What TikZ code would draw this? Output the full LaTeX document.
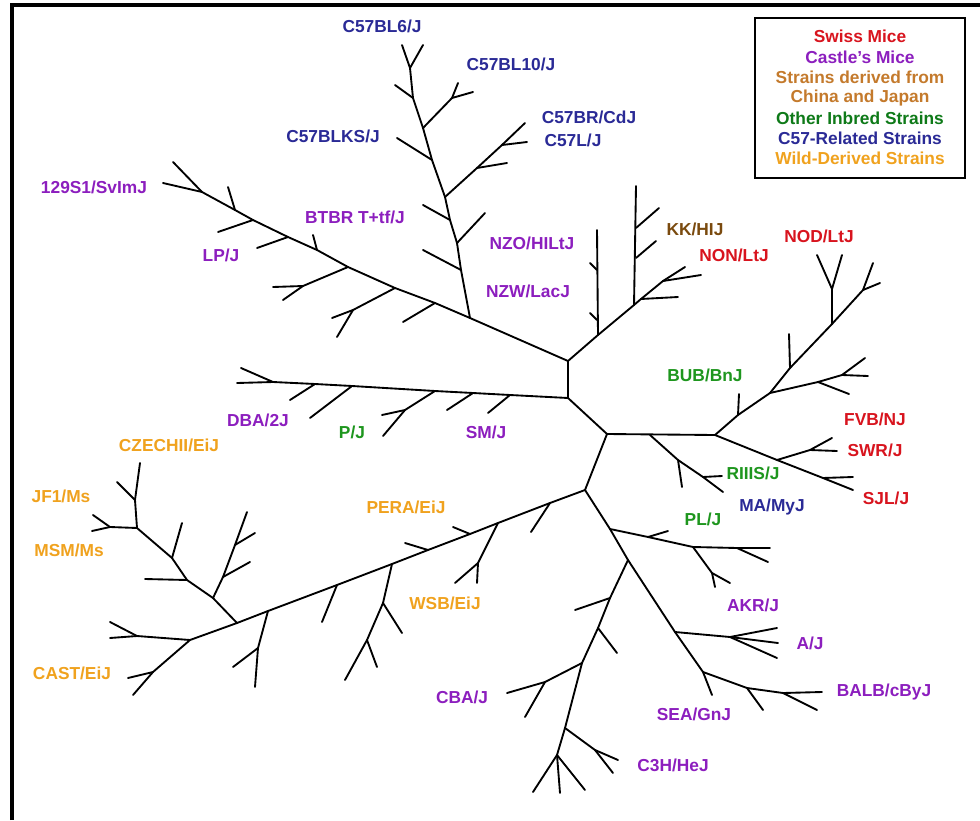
\documentclass[tikz,border=0pt]{standalone}
\usepackage{fontspec}
\setmainfont{Liberation Sans}
\definecolor{swiss}{HTML}{D8141E}
\definecolor{castle}{HTML}{8C1EBE}
\definecolor{china}{HTML}{C47A2C}
\definecolor{kkc}{HTML}{7A4A0E}
\definecolor{other}{HTML}{0E7A18}
\definecolor{otherlab}{HTML}{1E961E}
\definecolor{cfs}{HTML}{2A2A96}
\definecolor{wild}{HTML}{F0A21E}
\begin{document}
\begin{tikzpicture}[x=0.75pt,y=-0.75pt,
  br/.style={line width=1.4pt,line cap=round,line join=round},
  lab/.style={font=\fontsize{13}{15}\selectfont\bfseries,inner sep=0pt},
  leg/.style={font=\fontsize{13}{15}\selectfont\bfseries,inner sep=0pt}]
\useasboundingbox (0,0) rectangle (980,820);
\fill[white] (0,0) rectangle (980,820);
\draw[line width=3pt] (12,820) -- (12,5.5) -- (980,5.5);

% main junctions
\coordinate (A) at (568,361);
\coordinate (B) at (568,398);
\coordinate (C) at (607,434);
\coordinate (D) at (585,490);
\coordinate (E) at (715,435);
\coordinate (P) at (470,318);
\coordinate (K) at (237,623);
\coordinate (Q) at (598,335);
\coordinate (J) at (634,305);
\coordinate (F) at (770,393);
\coordinate (G) at (832,324);
\coordinate (H) at (777,460);
\coordinate (L) at (610,529);
\coordinate (M) at (628,560);
\coordinate (N) at (675,632);
\coordinate (O) at (703,672);

% centre
\draw[br] (P) -- (A) -- (B) -- (C) -- (E);
\draw[br] (C) -- (D);
\draw[br] (A) -- (Q) -- (J);

% 129S1 branch
\draw[br] (P) -- (435,303) -- (395,288) -- (348,267) -- (317,250) -- (288,237) -- (253,220) -- (235,210) -- (202,192) -- (173,162);
\draw[br] (202,192) -- (163,183);
\draw[br] (235,210) -- (228,187);
\draw[br] (253,220) -- (218,232);
\draw[br] (288,237) -- (257,248);
\draw[br] (317,250) -- (313,235);
\draw[br] (348,267) -- (303,286) -- (273,287);
\draw[br] (303,286) -- (283,300);
\draw[br] (395,288) -- (353,310) -- (332,318);
\draw[br] (353,310) -- (337,337);
\draw[br] (435,303) -- (403,322);

% C57 branch
\draw[br] (P) -- (461,270) -- (457,243) -- (450,220) -- (445,197) -- (432,160) -- (423,128) -- (413,98) -- (410,68) -- (402,45);
\draw[br] (410,68) -- (423,45);
\draw[br] (413,98) -- (395,85);
\draw[br] (423,128) -- (452,98) -- (458,83);
\draw[br] (452,98) -- (473,92);
\draw[br] (432,160) -- (397,138);
\draw[br] (445,197) -- (477,168) -- (502,145) -- (525,123);
\draw[br] (502,145) -- (527,142);
\draw[br] (477,168) -- (507,163);
\draw[br] (450,220) -- (423,205);
\draw[br] (457,243) -- (485,213);
\draw[br] (461,270) -- (423,250);

% NZO / NZW
\draw[br] (Q) -- (597,230);
\draw[br] (597,270) -- (590,263);
\draw[br] (597,320) -- (590,313);

% KK / NON
\draw[br] (J) -- (636,186);
\draw[br] (636,258) -- (656,241);
\draw[br] (636,228) -- (659,208);
\draw[br] (J) -- (641,299) -- (663,281) -- (685,267);
\draw[br] (641,299) -- (678,297);
\draw[br] (663,281) -- (701,275);

% NOD / FVB
\draw[br] (E) -- (738,415) -- (F) -- (790,368) -- (G) -- (863,290) -- (873,263);
\draw[br] (863,290) -- (880,283);
\draw[br] (738,415) -- (739,394);
\draw[br] (790,368) -- (789,334);
\draw[br] (G) -- (832,289) -- (817,255);
\draw[br] (832,289) -- (842,255);
\draw[br] (F) -- (818,382) -- (842,375) -- (868,376);
\draw[br] (842,375) -- (865,358);
\draw[br] (818,382) -- (849,394);

% SWR / SJL
\draw[br] (E) -- (H) -- (823,478) -- (853,490);
\draw[br] (H) -- (810,450) -- (832,438);
\draw[br] (810,450) -- (837,451);
\draw[br] (823,478) -- (853,477);

% RIIIS / MA
\draw[br] (650,435) -- (678,460) -- (703,477) -- (723,492);
\draw[br] (678,460) -- (682,487);
\draw[br] (703,477) -- (722,476);

% DBA / P / SM
\draw[br] (B) -- (510,395) -- (473,393) -- (435,391) -- (352,386) -- (315,384) -- (273,382) -- (237,383);
\draw[br] (273,382) -- (241,368);
\draw[br] (315,384) -- (290,400);
\draw[br] (352,386) -- (310,418);
\draw[br] (435,391) -- (405,410) -- (383,436);
\draw[br] (405,410) -- (382,415);
\draw[br] (473,393) -- (447,410);
\draw[br] (510,395) -- (488,413);

% wild-derived
\draw[br] (D) -- (550,503) -- (498,523) -- (470,534) -- (428,550) -- (392,564) -- (337,585) -- (268,611) -- (K);
\draw[br] (550,503) -- (531,532);
\draw[br] (498,523) -- (478,563) -- (455,583);
\draw[br] (478,563) -- (477,583);
\draw[br] (470,534) -- (453,527);
\draw[br] (428,550) -- (405,543);
\draw[br] (392,564) -- (383,603) -- (367,640) -- (345,680);
\draw[br] (383,603) -- (402,633);
\draw[br] (367,640) -- (377,667);
\draw[br] (337,585) -- (322,622);
\draw[br] (268,611) -- (258,648) -- (255,687);
\draw[br] (258,648) -- (233,667);
\draw[br] (K) -- (190,640) -- (137,636) -- (110,638);
\draw[br] (137,636) -- (110,622);
\draw[br] (190,640) -- (153,672) -- (133,695);
\draw[br] (153,672) -- (128,678);
\draw[br] (K) -- (213,598) -- (187,580) -- (172,558) -- (137,528) -- (135,500) -- (140,463);
\draw[br] (135,500) -- (117,482);
\draw[br] (137,528) -- (110,527) -- (93,515);
\draw[br] (110,527) -- (92,531);
\draw[br] (213,598) -- (223,577) -- (235,545) -- (247,512);
\draw[br] (223,577) -- (250,562);
\draw[br] (235,545) -- (255,533);
\draw[br] (187,580) -- (145,579);
\draw[br] (172,558) -- (182,523);

% lower branch
\draw[br] (D) -- (L) -- (M) -- (N) -- (O) -- (712,695);
\draw[br] (L) -- (648,537) -- (693,547) -- (737,548) -- (770,548);
\draw[br] (737,548) -- (768,562);
\draw[br] (648,537) -- (668,531);
\draw[br] (693,547) -- (712,573) -- (730,583);
\draw[br] (712,573) -- (715,587);
\draw[br] (N) -- (730,637) -- (777,628);
\draw[br] (730,637) -- (778,643);
\draw[br] (730,637) -- (777,658);
\draw[br] (O) -- (747,688) -- (783,693) -- (822,692);
\draw[br] (783,693) -- (817,710);
\draw[br] (747,688) -- (763,710);
\draw[br] (M) -- (610,598) -- (598,628) -- (582,663) -- (565,728) -- (557,755) -- (560,793);
\draw[br] (557,755) -- (533,792);
\draw[br] (557,755) -- (585,790);
\draw[br] (610,598) -- (575,610);
\draw[br] (598,628) -- (617,653);
\draw[br] (582,663) -- (545,682) -- (507,693);
\draw[br] (545,682) -- (525,717);
\draw[br] (565,728) -- (595,750) -- (618,760);
\draw[br] (595,750) -- (613,773);

% labels
\node[lab,text=cfs] (c57bl6) at (382,26) {C57BL6/J};
\node[lab,text=cfs] (c57bl10) at (511,64) {C57BL10/J};
\node[lab,text=cfs] (c57br) at (589,117) {C57BR/CdJ};
\node[lab,text=cfs] (c57l) at (573,140) {C57L/J};
\node[lab,text=cfs] (c57blks) at (333,136) {C57BLKS/J};
\node[lab,text=castle] (s129) at (94,187) {129S1/SvImJ};
\node[lab,text=castle] (btbr) at (355,217) {BTBR T+tf/J};
\node[lab,text=castle] (lp) at (221,255) {LP/J};
\node[lab,text=castle] (nzo) at (532,243) {NZO/HILtJ};
\node[lab,text=castle] (nzw) at (528,291) {NZW/LacJ};
\node[lab,text=kkc] (kk) at (695,229) {KK/HIJ};
\node[lab,text=swiss] (non) at (734,255) {NON/LtJ};
\node[lab,text=swiss] (nod) at (819,236) {NOD/LtJ};
\node[lab,text=otherlab] (bub) at (705,375) {BUB/BnJ};
\node[lab,text=swiss] (fvb) at (875,419) {FVB/NJ};
\node[lab,text=swiss] (swr) at (875,450) {SWR/J};
\node[lab,text=otherlab] (riiis) at (753,473) {RIIIS/J};
\node[lab,text=swiss] (sjl) at (886,498) {SJL/J};
\node[lab,text=cfs] (ma) at (772,507) {MA/MyJ};
\node[lab,text=otherlab] (pl) at (703,519) {PL/J};
\node[lab,text=castle] (dba) at (258,420) {DBA/2J};
\node[lab,text=otherlab] (pj) at (352,432) {P/J};
\node[lab,text=castle] (sm) at (486,432) {SM/J};
\node[lab,text=wild] (czechii) at (169,445) {CZECHII/EiJ};
\node[lab,text=wild] (jf1) at (61,496) {JF1/Ms};
\node[lab,text=wild] (msm) at (69,550) {MSM/Ms};
\node[lab,text=wild] (pera) at (406,507) {PERA/EiJ};
\node[lab,text=wild] (wsb) at (445,603) {WSB/EiJ};
\node[lab,text=wild] (cast) at (72,673) {CAST/EiJ};
\node[lab,text=castle] (cba) at (462,697) {CBA/J};
\node[lab,text=castle] (akr) at (753,605) {AKR/J};
\node[lab,text=castle] (aj) at (810,643) {A/J};
\node[lab,text=castle] (balb) at (884,692) {BALB/cByJ};
\node[lab,text=castle] (sea) at (694,714) {SEA/GnJ};
\node[lab,text=castle] (c3h) at (673,765) {C3H/HeJ};

% legend
\draw[line width=1.1pt,fill=white] (755,18) rectangle (965,178);
\node[leg,text=swiss] (l1) at (860,36) {Swiss Mice};
\node[leg,text=castle] (l2) at (860,57) {Castle's Mice};
\node[leg,text=china] (l3) at (860,77) {Strains derived from};
\node[leg,text=china] (l4) at (860,98) {China and Japan};
\node[leg,text=other] (l5) at (860,118) {Other Inbred Strains};
\node[leg,text=cfs] (l6) at (860,138) {C57-Related Strains};
\node[leg,text=wild] (l7) at (860,158) {Wild-Derived Strains};
\end{tikzpicture}
\end{document}
